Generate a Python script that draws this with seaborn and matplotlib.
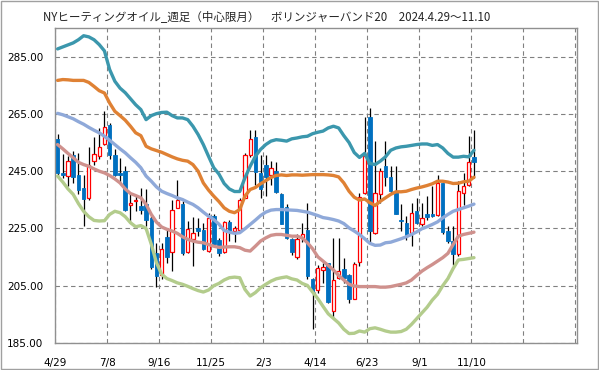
import numpy as np
import pandas as pd
import matplotlib
matplotlib.use("Agg")
import matplotlib.pyplot as plt
import seaborn as sns

# weekly candles, 2024-04-29 .. 2025-11-10 (81 weeks)
tick_labels = ["4/29", "7/8", "9/16", "11/25", "2/3", "4/14", "6/23", "9/1", "11/10", "", ""]

opens = [256.4, 244.4, 243.3, 250.7, 243.8, 239.0, 235.6, 248.6, 250.2, 254.4,
         261.3, 250.8, 244.4, 245.0, 233.1, 234.5, 233.0, 233.7, 228.5, 216.5,
         208.6, 222.0, 216.9, 232.2, 233.7, 216.7, 221.4, 225.1, 224.4, 217.1,
         229.3, 220.8, 216.7, 227.4, 224.1, 224.4, 235.7, 250.5, 257.0, 244.4,
         247.0, 243.8, 245.0, 236.9, 232.4, 221.4, 215.1, 221.7, 224.3, 207.2,
         203.5, 210.6, 213.0, 196.2, 207.8, 210.7, 208.6, 200.5, 213.4, 237.4,
         264.0, 223.5, 237.2, 246.7, 242.9, 237.8, 228.1, 227.0, 223.3, 231.0,
         226.7, 229.9, 230.2, 229.8, 240.7, 224.0, 220.7, 216.2, 237.4, 240.3,
         249.8]
highs = [258.1, 251.0, 250.2, 252.1, 251.4, 243.6, 253.5, 256.9, 260.2, 266.0,
         261.9, 252.6, 249.7, 246.7, 237.4, 236.3, 239.0, 238.8, 229.3, 220.0,
         220.0, 224.7, 235.1, 241.9, 234.5, 227.6, 229.0, 228.7, 227.0, 230.5,
         229.9, 221.7, 227.6, 228.1, 226.0, 235.5, 251.4, 259.5, 259.3, 250.8,
         250.5, 248.5, 248.1, 237.4, 233.6, 221.7, 222.9, 227.0, 234.0, 207.8,
         212.4, 213.0, 213.0, 221.7, 221.7, 214.8, 209.0, 213.3, 237.4, 264.0,
         267.1, 255.5, 246.2, 255.5, 246.7, 246.7, 233.4, 229.3, 234.0, 235.7,
         234.0, 236.2, 239.7, 243.8, 240.7, 225.9, 225.9, 241.5, 244.2, 257.2,
         259.5]
lows = [243.3, 242.7, 239.8, 240.7, 237.2, 225.8, 235.0, 247.0, 249.3, 254.0,
        249.3, 243.3, 240.9, 231.0, 227.0, 231.0, 229.9, 225.8, 210.7, 204.5,
        207.2, 213.0, 210.3, 232.0, 215.8, 216.5, 211.9, 222.3, 217.4, 216.9,
        218.8, 215.3, 216.5, 220.6, 220.2, 224.0, 235.5, 250.0, 240.3, 235.7,
        236.5, 240.3, 237.4, 226.4, 221.4, 215.8, 214.2, 220.2, 207.5, 189.8,
        202.6, 206.0, 199.0, 193.8, 207.4, 206.0, 199.1, 200.2, 211.9, 236.9,
        220.2, 223.1, 234.0, 239.8, 236.9, 229.9, 224.0, 221.0, 218.8, 226.4,
        225.8, 228.0, 229.0, 229.3, 223.2, 220.0, 212.4, 215.4, 233.1, 239.8,
        242.7]
closes = [244.4, 243.6, 248.6, 242.9, 238.4, 235.2, 247.2, 251.0, 253.6, 260.5,
          250.8, 243.6, 243.6, 231.5, 234.0, 235.0, 231.6, 227.9, 211.5, 208.4,
          217.7, 215.0, 231.6, 234.8, 216.3, 224.9, 223.5, 224.1, 218.0, 228.7,
          219.4, 216.5, 227.2, 223.7, 225.2, 235.1, 250.5, 256.3, 244.7, 238.8,
          243.0, 246.2, 237.7, 226.6, 221.6, 216.7, 221.2, 222.9, 208.4, 202.8,
          211.2, 211.4, 199.3, 206.9, 210.2, 207.8, 200.5, 212.7, 236.0, 250.2,
          224.1, 237.4, 245.0, 242.9, 238.0, 230.1, 227.6, 222.8, 230.5, 227.0,
          228.7, 229.1, 229.3, 240.9, 223.7, 220.6, 216.2, 238.0, 239.8, 248.3,
          248.1]

# Bollinger band (20) lines
upper2 = [287.7, 288.4, 289.1, 289.8, 290.9, 292.3, 291.9, 290.9, 289.2, 287.0,
          280.5, 276.4, 274.0, 272.4, 270.3, 268.2, 266.5, 263.0, 264.4, 265.1,
          265.5, 265.6, 264.4, 263.6, 263.6, 263.0, 260.7, 257.8, 254.3, 250.2,
          246.2, 244.0, 240.7, 238.8, 237.9, 237.9, 242.7, 246.7, 250.2, 252.6,
          254.3, 255.5, 256.0, 255.8, 255.5, 256.3, 256.6, 257.0, 257.2, 258.1,
          258.6, 259.0, 260.1, 260.7, 260.1, 257.4, 255.0, 251.5, 249.8, 251.2,
          247.7, 247.3, 248.5, 250.0, 252.3, 253.1, 253.5, 253.7, 254.0, 254.3,
          254.5, 254.5, 254.0, 254.3, 253.1, 251.2, 249.9, 249.9, 250.2, 250.0,
          252.3]
upper1 = [276.7, 277.0, 276.9, 276.7, 276.7, 276.7, 276.0, 274.6, 273.1, 272.3,
          268.8, 265.9, 264.4, 262.8, 260.7, 258.4, 257.4, 253.7, 252.8, 252.2,
          251.6, 250.8, 250.0, 249.3, 248.8, 248.5, 247.3, 245.0, 240.9, 238.4,
          236.3, 234.4, 232.2, 231.0, 230.5, 231.6, 236.3, 238.6, 239.3, 240.6,
          241.7, 242.8, 243.5, 243.7, 243.5, 243.7, 243.7, 243.6, 243.7, 243.8,
          243.8, 243.8, 243.7, 243.5, 243.0, 240.9, 238.0, 235.9, 234.9, 235.3,
          234.0, 233.0, 234.5, 235.7, 236.9, 237.8, 237.8, 238.0, 238.6, 239.1,
          239.5, 240.0, 240.6, 241.5, 241.5, 241.2, 240.7, 240.8, 241.3, 241.5,
          242.9]
middle = [265.2, 264.7, 264.0, 263.3, 262.3, 261.4, 260.3, 259.3, 258.4, 257.2,
          255.8, 254.3, 252.8, 251.4, 249.7, 248.1, 246.2, 243.3, 241.5, 239.5,
          238.0, 237.2, 236.5, 235.7, 235.1, 234.2, 233.4, 232.2, 230.7, 229.3,
          228.1, 226.5, 224.3, 223.7, 223.3, 223.5, 224.9, 226.4, 227.9, 229.5,
          230.7, 231.4, 231.6, 231.6, 231.5, 231.4, 231.3, 231.0, 230.7, 230.1,
          229.5, 228.8, 228.5, 228.1, 227.6, 226.7, 225.2, 224.1, 222.9, 221.4,
          219.8, 219.1, 219.2, 220.0, 220.2, 220.8, 221.4, 222.1, 222.9, 223.8,
          224.9, 225.6, 226.4, 227.3, 228.7, 229.9, 231.0, 231.6, 232.2, 232.8,
          233.5]
lower1 = [254.3, 252.8, 251.2, 249.7, 248.1, 247.3, 246.7, 245.8, 245.0, 244.4,
          243.5, 242.3, 240.9, 238.8, 237.2, 236.5, 235.7, 233.4, 229.9, 227.2,
          225.5, 224.7, 224.1, 223.3, 222.1, 221.2, 220.6, 220.2, 220.0, 219.4,
          218.8, 218.4, 218.5, 218.6, 218.6, 218.3, 217.4, 217.1, 218.8, 220.6,
          221.7, 222.6, 222.9, 222.9, 222.6, 222.3, 222.3, 221.7, 220.0, 217.9,
          215.1, 213.6, 212.1, 210.5, 208.6, 207.0, 205.5, 204.9, 204.7, 204.7,
          204.7, 204.7, 204.5, 204.5, 204.7, 205.1, 205.5, 206.0, 207.0, 208.6,
          210.1, 211.3, 212.4, 213.6, 214.8, 216.3, 219.4, 222.3, 222.9, 223.3,
          223.7]
lower2 = [243.3, 241.2, 238.8, 236.9, 233.7, 231.0, 229.1, 227.8, 227.6, 227.7,
          229.9, 231.0, 230.5, 229.1, 227.0, 225.6, 226.0, 225.0, 219.5, 213.0,
          209.0, 207.5, 206.8, 206.0, 205.5, 204.8, 204.0, 203.3, 202.8, 203.5,
          205.0, 205.8, 207.0, 207.8, 208.0, 207.8, 203.7, 201.4, 202.6, 204.3,
          205.5, 206.6, 207.4, 207.8, 208.1, 207.4, 207.0, 205.8, 205.1, 202.8,
          200.5, 197.8, 195.2, 193.6, 192.0, 189.8, 188.3, 188.4, 189.2, 188.8,
          190.0, 190.3, 189.8, 189.2, 188.8, 188.8, 189.0, 189.8, 191.5, 193.5,
          195.5, 197.5, 200.0, 202.0, 205.0, 207.5, 211.0, 214.0, 214.2, 214.5,
          214.8]

sns.set_style("white")
plt.rcParams['font.family'] = ['Noto Sans CJK JP', 'DejaVu Sans']

fig = plt.figure(figsize=(5.99, 3.70), dpi=100)
ax = fig.add_axes([55 / 599, 27 / 370, 522 / 599, 315 / 370])

x = np.arange(len(opens)) + 0.5
o = np.array(opens)
c = np.array(closes)
up = c >= o

# wicks
ax.vlines(x, lows, highs, color="black", linewidth=0.9, zorder=2)
# bodies
body_lo = np.minimum(o, c)
body_h = np.maximum(np.abs(c - o), 0.35)
ax.bar(x[~up], body_h[~up], bottom=body_lo[~up], width=0.68,
       color="#0070C0", edgecolor="#0070C0", linewidth=0.6, zorder=3)
ax.bar(x[up], body_h[up], bottom=body_lo[up], width=0.62,
       color="white", edgecolor="#FF0000", linewidth=0.9, zorder=3)

# bands
bands = pd.DataFrame({
    "x": np.tile(x, 5),
    "value": upper2 + upper1 + middle + lower1 + lower2,
    "band": ["+2σ"] * len(x) + ["+1σ"] * len(x) + ["mid"] * len(x)
            + ["-1σ"] * len(x) + ["-2σ"] * len(x),
})
palette = {"+2σ": "#3B97AD", "+1σ": "#DF8134", "mid": "#8FA9D9",
           "-1σ": "#CF918D", "-2σ": "#B3CC8C"}
sns.lineplot(data=bands, x="x", y="value", hue="band", palette=palette,
             linewidth=2.4, legend=False, sort=False, ax=ax, zorder=4)

ax.set_xlim(0, 100.3)
ax.set_ylim(185, 295)
ax.set_yticks([185, 205, 225, 245, 265, 285])
ax.set_yticklabels([f"{v:.2f}" for v in [185, 205, 225, 245, 265, 285]],
                   family="DejaVu Sans", fontsize=7.5)
ax.set_xticks(range(0, 101, 10))
ax.set_xticklabels(tick_labels, family="DejaVu Sans", fontsize=7.5)
ax.set_xlabel("")
ax.set_ylabel("")

ax.grid(True, color="#808080", linestyle=(0, (4, 3)), linewidth=0.8)
ax.set_axisbelow(True)
for s in ax.spines.values():
    s.set_color("#909090")
    s.set_linewidth(1.0)
ax.tick_params(axis="both", direction="out", length=3.5, width=0.8,
               color="#909090", colors="black")
ax.tick_params(axis="y", pad=5)
ax.tick_params(axis="x", pad=7)

fig.text(43 / 599, 1 - 17 / 370,
         "NYヒーティングオイル_週足（中心限月）　ボリンジャーバンド20　2024.4.29～11.10",
         fontsize=8.3, va="center", ha="left")

fig.patches.append(plt.Rectangle((0.001, 0.002), 0.997, 0.995, transform=fig.transFigure,
                                 fill=False, edgecolor="#A0A0A0", linewidth=1.0))

fig.savefig("out.png", dpi=100)
